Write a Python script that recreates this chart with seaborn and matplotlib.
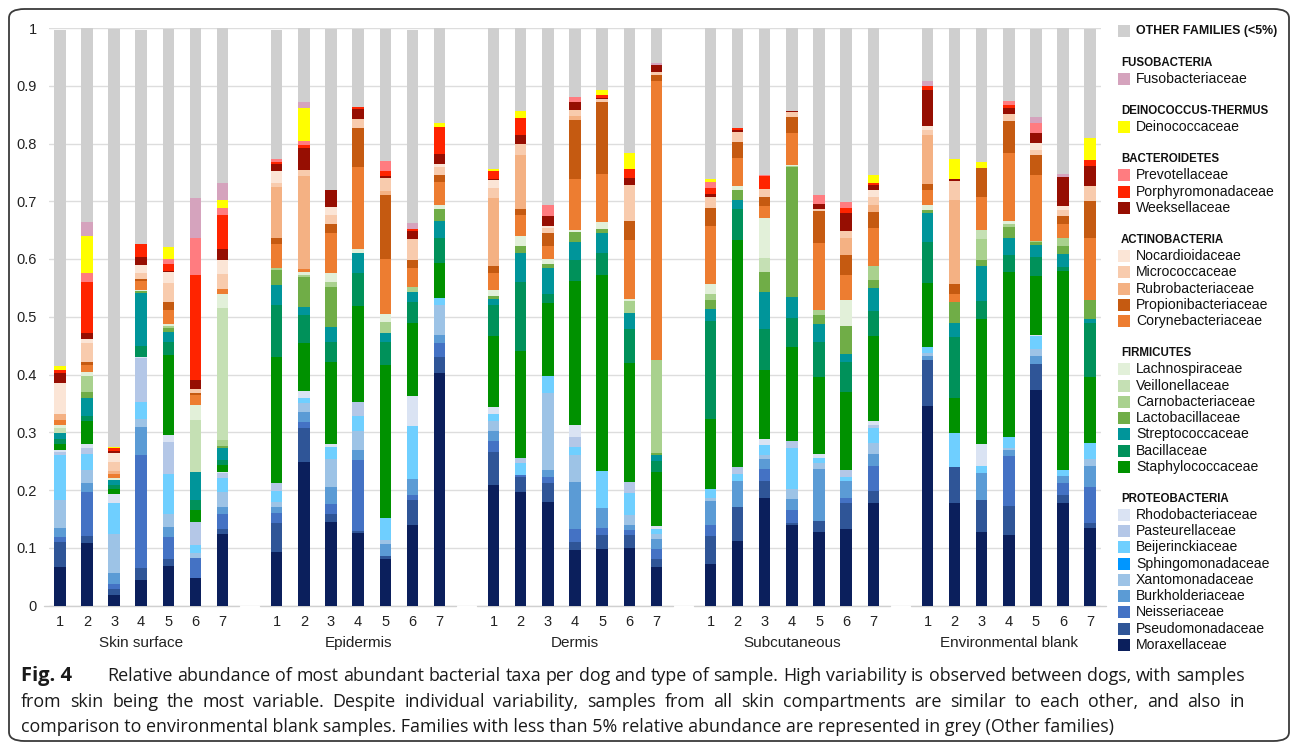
import numpy as np
import matplotlib
matplotlib.use("Agg")
import matplotlib.pyplot as plt
from matplotlib.patches import FancyBboxPatch, Rectangle
import seaborn as sns

groups = ["Skin surface", "Epidermis", "Dermis", "Subcutaneous", "Environmental blank"]
dogs = ["1", "2", "3", "4", "5", "6", "7"]

# relative abundance, 7 dogs per sample type (order of `groups`)
moraxellaceae = [0.067, 0.108, 0.019, 0.044, 0.069, 0.048, 0.123,
                 0.092, 0.249, 0.145, 0.126, 0.081, 0.140, 0.403,
                 0.208, 0.196, 0.180, 0.096, 0.097, 0.099, 0.067,
                 0.071, 0.111, 0.186, 0.139, 0.128, 0.132, 0.178,
                 0.345, 0.177, 0.128, 0.122, 0.374, 0.178, 0.134]
pseudomonadaceae = [0.043, 0.013, 0.010, 0.021, 0.011, 0.000, 0.010,
                    0.051, 0.059, 0.014, 0.003, 0.004, 0.042, 0.028,
                    0.057, 0.027, 0.032, 0.014, 0.025, 0.023, 0.014,
                    0.049, 0.059, 0.029, 0.004, 0.019, 0.046, 0.021,
                    0.080, 0.063, 0.055, 0.050, 0.045, 0.014, 0.009]
neisseriaceae = [0.009, 0.075, 0.008, 0.196, 0.039, 0.034, 0.025,
                 0.017, 0.010, 0.017, 0.123, 0.000, 0.010, 0.023,
                 0.020, 0.003, 0.010, 0.022, 0.013, 0.009, 0.017,
                 0.019, 0.000, 0.021, 0.023, 0.000, 0.008, 0.042,
                 0.000, 0.000, 0.000, 0.087, 0.000, 0.020, 0.063]
burkholderiaceae = [0.016, 0.016, 0.020, 0.048, 0.017, 0.000, 0.012,
                    0.010, 0.017, 0.029, 0.018, 0.022, 0.027, 0.014,
                    0.018, 0.000, 0.012, 0.081, 0.033, 0.008, 0.017,
                    0.042, 0.045, 0.017, 0.019, 0.089, 0.030, 0.021,
                    0.007, 0.000, 0.046, 0.010, 0.013, 0.012, 0.035]
xantomonadaceae = [0.048, 0.023, 0.066, 0.014, 0.022, 0.009, 0.027,
                   0.010, 0.015, 0.049, 0.033, 0.006, 0.000, 0.052,
                   0.016, 0.000, 0.134, 0.048, 0.000, 0.018, 0.008,
                   0.005, 0.000, 0.008, 0.017, 0.010, 0.000, 0.020,
                   0.005, 0.000, 0.000, 0.003, 0.013, 0.000, 0.012]
sphingomonadaceae = [0.0] * 35
beijerinckiaceae = [0.077, 0.028, 0.054, 0.030, 0.070, 0.013, 0.023,
                    0.018, 0.009, 0.020, 0.026, 0.038, 0.092, 0.012,
                    0.012, 0.020, 0.029, 0.014, 0.065, 0.038, 0.010,
                    0.016, 0.012, 0.017, 0.071, 0.009, 0.006, 0.026,
                    0.010, 0.058, 0.012, 0.019, 0.021, 0.010, 0.028]
pasteurellaceae = [0.006, 0.010, 0.000, 0.076, 0.055, 0.040, 0.009,
                   0.014, 0.000, 0.000, 0.024, 0.000, 0.000, 0.000,
                   0.000, 0.009, 0.000, 0.017, 0.000, 0.018, 0.000,
                   0.000, 0.012, 0.000, 0.011, 0.000, 0.012, 0.005,
                   0.000, 0.000, 0.000, 0.000, 0.000, 0.000, 0.000]
rhodobacteriaceae = [0.004, 0.006, 0.016, 0.002, 0.012, 0.000, 0.003,
                     0.000, 0.013, 0.005, 0.000, 0.000, 0.052, 0.000,
                     0.013, 0.000, 0.000, 0.020, 0.000, 0.000, 0.004,
                     0.000, 0.000, 0.010, 0.000, 0.007, 0.000, 0.006,
                     0.000, 0.000, 0.039, 0.000, 0.003, 0.000, 0.000]
staphylococcaceae = [0.010, 0.040, 0.008, 0.000, 0.139, 0.022, 0.012,
                     0.219, 0.082, 0.143, 0.165, 0.266, 0.127, 0.061,
                     0.123, 0.185, 0.127, 0.250, 0.339, 0.207, 0.094,
                     0.121, 0.394, 0.120, 0.163, 0.133, 0.135, 0.148,
                     0.111, 0.061, 0.216, 0.287, 0.101, 0.345, 0.115]
bacillaceae = [0.009, 0.009, 0.008, 0.019, 0.023, 0.017, 0.008,
               0.089, 0.049, 0.035, 0.058, 0.040, 0.036, 0.044,
               0.053, 0.121, 0.016, 0.036, 0.038, 0.058, 0.020,
               0.169, 0.053, 0.071, 0.051, 0.061, 0.052, 0.043,
               0.072, 0.106, 0.031, 0.029, 0.033, 0.007, 0.093]
streptococcaceae = [0.010, 0.032, 0.008, 0.091, 0.017, 0.048, 0.020,
                    0.035, 0.014, 0.026, 0.035, 0.014, 0.016, 0.028,
                    0.010, 0.049, 0.044, 0.031, 0.035, 0.029, 0.010,
                    0.021, 0.017, 0.063, 0.037, 0.031, 0.014, 0.040,
                    0.050, 0.024, 0.061, 0.029, 0.021, 0.023, 0.007]
lactobacillaceae = [0.000, 0.009, 0.000, 0.003, 0.006, 0.000, 0.005,
                    0.026, 0.051, 0.069, 0.000, 0.000, 0.000, 0.022,
                    0.006, 0.012, 0.008, 0.017, 0.007, 0.000, 0.003,
                    0.016, 0.017, 0.036, 0.224, 0.016, 0.049, 0.013,
                    0.005, 0.036, 0.010, 0.019, 0.005, 0.013, 0.033]
carnobacteriaceae = [0.000, 0.028, 0.000, 0.000, 0.004, 0.000, 0.010,
                     0.003, 0.005, 0.009, 0.000, 0.020, 0.009, 0.000,
                     0.000, 0.000, 0.000, 0.000, 0.000, 0.020, 0.161,
                     0.010, 0.000, 0.000, 0.002, 0.008, 0.000, 0.025,
                     0.000, 0.000, 0.036, 0.006, 0.003, 0.015, 0.000]
veillonellaceae = [0.008, 0.000, 0.000, 0.000, 0.000, 0.091, 0.229,
                   0.000, 0.000, 0.000, 0.000, 0.000, 0.000, 0.000,
                   0.000, 0.000, 0.000, 0.000, 0.000, 0.000, 0.000,
                   0.000, 0.000, 0.024, 0.000, 0.000, 0.000, 0.000,
                   0.000, 0.000, 0.017, 0.000, 0.000, 0.000, 0.000]
lachnospiraceae = [0.006, 0.007, 0.003, 0.002, 0.004, 0.026, 0.024,
                   0.000, 0.005, 0.014, 0.006, 0.013, 0.000, 0.007,
                   0.010, 0.018, 0.008, 0.004, 0.012, 0.004, 0.000,
                   0.017, 0.006, 0.069, 0.002, 0.000, 0.045, 0.000,
                   0.008, 0.000, 0.000, 0.005, 0.000, 0.000, 0.000]
corynebacteriaceae = [0.009, 0.012, 0.007, 0.016, 0.024, 0.017, 0.008,
                      0.042, 0.004, 0.070, 0.143, 0.096, 0.033, 0.039,
                      0.030, 0.036, 0.023, 0.089, 0.083, 0.102, 0.484,
                      0.102, 0.049, 0.020, 0.056, 0.117, 0.043, 0.065,
                      0.027, 0.015, 0.056, 0.117, 0.114, 0.024, 0.108]
propionibacteriaceae = [0.000, 0.005, 0.000, 0.003, 0.014, 0.003, 0.000,
                        0.010, 0.000, 0.016, 0.066, 0.111, 0.014, 0.013,
                        0.012, 0.010, 0.022, 0.102, 0.124, 0.033, 0.009,
                        0.030, 0.028, 0.017, 0.027, 0.055, 0.035, 0.028,
                        0.010, 0.016, 0.051, 0.056, 0.034, 0.013, 0.064]
rubrobacteriaceae = [0.009, 0.000, 0.006, 0.000, 0.000, 0.000, 0.000,
                     0.089, 0.162, 0.000, 0.000, 0.007, 0.000, 0.000,
                     0.118, 0.094, 0.000, 0.007, 0.000, 0.000, 0.000,
                     0.000, 0.000, 0.000, 0.000, 0.000, 0.029, 0.012,
                     0.085, 0.147, 0.000, 0.000, 0.000, 0.000, 0.000]
micrococcaceae = [0.000, 0.033, 0.016, 0.011, 0.033, 0.007, 0.026,
                  0.006, 0.010, 0.016, 0.017, 0.022, 0.036, 0.014,
                  0.017, 0.019, 0.009, 0.010, 0.006, 0.063, 0.006,
                  0.019, 0.017, 0.014, 0.009, 0.004, 0.013, 0.014,
                  0.008, 0.032, 0.000, 0.012, 0.009, 0.010, 0.025]
nocardioidaceae = [0.055, 0.008, 0.015, 0.014, 0.019, 0.000, 0.025,
                   0.021, 0.000, 0.013, 0.000, 0.000, 0.000, 0.005,
                   0.014, 0.000, 0.004, 0.000, 0.000, 0.000, 0.000,
                   0.000, 0.000, 0.000, 0.000, 0.000, 0.000, 0.012,
                   0.008, 0.000, 0.000, 0.000, 0.012, 0.008, 0.000]
weeksellaceae = [0.016, 0.010, 0.003, 0.013, 0.002, 0.016, 0.018,
                 0.013, 0.039, 0.030, 0.017, 0.004, 0.014, 0.017,
                 0.002, 0.016, 0.016, 0.013, 0.001, 0.012, 0.012,
                 0.006, 0.004, 0.000, 0.002, 0.008, 0.030, 0.009,
                 0.061, 0.003, 0.000, 0.010, 0.018, 0.050, 0.035]
porphyromonadaceae = [0.006, 0.089, 0.005, 0.023, 0.012, 0.181, 0.060,
                      0.003, 0.004, 0.000, 0.004, 0.009, 0.004, 0.046,
                      0.014, 0.029, 0.000, 0.000, 0.006, 0.014, 0.000,
                      0.010, 0.003, 0.021, 0.000, 0.000, 0.010, 0.004,
                      0.007, 0.000, 0.000, 0.006, 0.000, 0.000, 0.010]
prevotellaceae = [0.000, 0.014, 0.000, 0.000, 0.008, 0.065, 0.012,
                  0.006, 0.008, 0.000, 0.000, 0.017, 0.000, 0.000,
                  0.000, 0.000, 0.020, 0.009, 0.000, 0.000, 0.000,
                  0.010, 0.000, 0.003, 0.000, 0.016, 0.010, 0.000,
                  0.000, 0.000, 0.000, 0.007, 0.016, 0.000, 0.000]
deinococcaceae = [0.006, 0.065, 0.002, 0.000, 0.021, 0.000, 0.014,
                  0.000, 0.056, 0.000, 0.000, 0.000, 0.000, 0.008,
                  0.003, 0.012, 0.000, 0.000, 0.009, 0.029, 0.000,
                  0.005, 0.000, 0.000, 0.000, 0.000, 0.000, 0.013,
                  0.000, 0.035, 0.010, 0.000, 0.000, 0.000, 0.039]
fusobacteriaceae = [0.000, 0.024, 0.000, 0.000, 0.000, 0.068, 0.029,
                    0.000, 0.011, 0.000, 0.000, 0.000, 0.010, 0.000,
                    0.000, 0.000, 0.000, 0.000, 0.000, 0.000, 0.003,
                    0.000, 0.000, 0.000, 0.000, 0.000, 0.000, 0.000,
                    0.009, 0.000, 0.000, 0.000, 0.011, 0.005, 0.000]
other_families = [0.583, 0.336, 0.724, 0.371, 0.378, 0.296, 0.268,
                  0.222, 0.128, 0.279, 0.135, 0.229, 0.335, 0.165,
                  0.244, 0.145, 0.306, 0.119, 0.107, 0.217, 0.061,
                  0.262, 0.172, 0.253, 0.144, 0.292, 0.301, 0.255,
                  0.093, 0.229, 0.233, 0.126, 0.152, 0.253, 0.189]

# stacking order, bottom to top
stack = [
    ("Moraxellaceae", moraxellaceae, "#0b1f5c"),
    ("Pseudomonadaceae", pseudomonadaceae, "#2f5597"),
    ("Neisseriaceae", neisseriaceae, "#4472c4"),
    ("Burkholderiaceae", burkholderiaceae, "#5b9bd5"),
    ("Xantomonadaceae", xantomonadaceae, "#9dc3e6"),
    ("Sphingomonadaceae", sphingomonadaceae, "#0096ff"),
    ("Beijerinckiaceae", beijerinckiaceae, "#6fcfff"),
    ("Pasteurellaceae", pasteurellaceae, "#b4c7e7"),
    ("Rhodobacteriaceae", rhodobacteriaceae, "#dae3f3"),
    ("Staphylococcaceae", staphylococcaceae, "#009100"),
    ("Bacillaceae", bacillaceae, "#00915a"),
    ("Streptococcaceae", streptococcaceae, "#00959a"),
    ("Lactobacillaceae", lactobacillaceae, "#70ad47"),
    ("Carnobacteriaceae", carnobacteriaceae, "#a9d18e"),
    ("Veillonellaceae", veillonellaceae, "#c5e0b4"),
    ("Lachnospiraceae", lachnospiraceae, "#e2f0d9"),
    ("Corynebacteriaceae", corynebacteriaceae, "#ed7d31"),
    ("Propionibacteriaceae", propionibacteriaceae, "#c55a11"),
    ("Rubrobacteriaceae", rubrobacteriaceae, "#f4b183"),
    ("Micrococcaceae", micrococcaceae, "#f8cbad"),
    ("Nocardioidaceae", nocardioidaceae, "#fbe5d6"),
    ("Weeksellaceae", weeksellaceae, "#960e02"),
    ("Porphyromonadaceae", porphyromonadaceae, "#ff2400"),
    ("Prevotellaceae", prevotellaceae, "#ff7c80"),
    ("Deinococcaceae", deinococcaceae, "#ffff00"),
    ("Fusobacteriaceae", fusobacteriaceae, "#d5a3bd"),
    ("OTHER FAMILIES (<5%)", other_families, "#cfcfcf"),
]
colors = {name: c for name, _, c in stack}

legend_blocks = [
    (None, ["OTHER FAMILIES (<5%)"]),
    ("FUSOBACTERIA", ["Fusobacteriaceae"]),
    ("DEINOCOCCUS-THERMUS", ["Deinococcaceae"]),
    ("BACTEROIDETES", ["Prevotellaceae", "Porphyromonadaceae", "Weeksellaceae"]),
    ("ACTINOBACTERIA", ["Nocardioidaceae", "Micrococcaceae", "Rubrobacteriaceae",
                        "Propionibacteriaceae", "Corynebacteriaceae"]),
    ("FIRMICUTES", ["Lachnospiraceae", "Veillonellaceae", "Carnobacteriaceae",
                    "Lactobacillaceae", "Streptococcaceae", "Bacillaceae",
                    "Staphylococcaceae"]),
    ("PROTEOBACTERIA", ["Rhodobacteriaceae", "Pasteurellaceae", "Beijerinckiaceae",
                        "Sphingomonadaceae", "Xantomonadaceae", "Burkholderiaceae",
                        "Neisseriaceae", "Pseudomonadaceae", "Moraxellaceae"]),
]

caption_lines = [
    "Relative abundance of most abundant bacterial taxa per dog and type of sample. "
    "High variability is observed between dogs, with samples",
    "from skin being the most variable. Despite individual variability, samples from all "
    "skin compartments are similar to each other, and also in",
    "comparison to environmental blank samples. Families with less than 5% relative "
    "abundance are represented in grey (Other families)",
]

sns.set_theme(style="white")
plt.rcParams["font.family"] = ["Liberation Sans", "DejaVu Sans"]

W, H = 1293, 747
fig = plt.figure(figsize=(W / 100, H / 100), dpi=100)
ax = fig.add_axes([49 / W, 1 - 605.5 / H, 1052 / W, 577.5 / H])

pos = np.array([g * 8 + i for g in range(len(groups)) for i in range(len(dogs))])
bottom = np.zeros(len(pos))
for name, vals, color in stack:
    vals = np.asarray(vals, dtype=float)
    sns.barplot(x=pos, y=vals, bottom=bottom, native_scale=True, color=color,
                saturation=1, width=0.42, errorbar=None, linewidth=0,
                edgecolor="none", ax=ax, zorder=3)
    bottom = bottom + vals

ax.set_xlim(-0.4, 38.4)
ax.set_ylim(0, 1)
ax.set_yticks(np.arange(0, 1.01, 0.1))
ax.set_yticklabels(["0"] + [f"{v:.1f}" for v in np.arange(0.1, 0.95, 0.1)] + ["1"],
                   fontsize=10.5, color="#222222")
ax.yaxis.grid(True, color="#dddddd", linewidth=1, zorder=0)
ax.set_axisbelow(True)
ax.set_xticks(pos)
ax.set_xticklabels(dogs * len(groups), fontsize=10.5, color="#222222")
ax.tick_params(axis="both", length=0, pad=7)
ax.tick_params(axis="y", pad=9)
ax.set_xlabel("")
ax.set_ylabel("")
for s in ax.spines.values():
    s.set_visible(False)

for g, name in enumerate(groups):
    ax.plot([g * 8 - 0.6, g * 8 + 6.6], [0, 0], color="#d0d0d0", lw=1,
            clip_on=False, zorder=2)
    ax.text(g * 8 + 3, -0.065, name, transform=ax.get_xaxis_transform(),
            ha="center", va="center", fontsize=11, color="#222222")


def fx(x):
    return x / W


def fy(y):
    return 1 - y / H


# legend on the right
y = 31
for header, items in legend_blocks:
    if header is not None:
        fig.text(fx(1121), fy(y), header, fontsize=8.3, fontweight="bold",
                 va="center", ha="left", color="#111111")
        y += 16.3
    for item in items:
        fig.add_artist(Rectangle((fx(1118), fy(y + 6)), fx(12), 12 / H,
                                 facecolor=colors[item], edgecolor="none",
                                 transform=fig.transFigure))
        bold = header is None
        fig.text(fx(1136), fy(y), item, fontsize=8.9 if bold else 10.1,
                 fontweight="bold" if bold else "normal",
                 va="center", ha="left", color="#111111")
        y += 16.25
    y += 15.6

# frame and caption
fig.add_artist(FancyBboxPatch((fx(9), fy(741)), fx(1280), (741 - 9) / H,
                              boxstyle="round,pad=0,rounding_size=0.012",
                              facecolor="none", edgecolor="#3a3a3a", lw=1.3,
                              transform=fig.transFigure))
cap_font = ["Open Sans", "DejaVu Sans"]
cap_size = 12.9
renderer = fig.canvas.get_renderer()


def justify(text, x0, x1, y):
    words = text.split(" ")
    objs = [fig.text(0, fy(y), w, fontsize=cap_size, family=cap_font,
                     va="center", ha="left", color="#1a1a1a") for w in words]
    widths = [o.get_window_extent(renderer).width for o in objs]
    gap = (x1 - x0 - sum(widths)) / (len(words) - 1)
    x = x0
    for o, w in zip(objs, widths):
        o.set_x(fx(x))
        x += w + gap


fig.text(fx(21), fy(676), "Fig. 4", fontsize=14.5, fontweight="bold",
         family=cap_font, va="center", ha="left", color="#1a1a1a")
justify(caption_lines[0], 107, 1245, 676)
justify(caption_lines[1], 21, 1245, 702)
fig.text(fx(21), fy(727), caption_lines[2], fontsize=cap_size, family=cap_font,
         va="center", ha="left", color="#1a1a1a")

fig.savefig("out.png", dpi=100)
